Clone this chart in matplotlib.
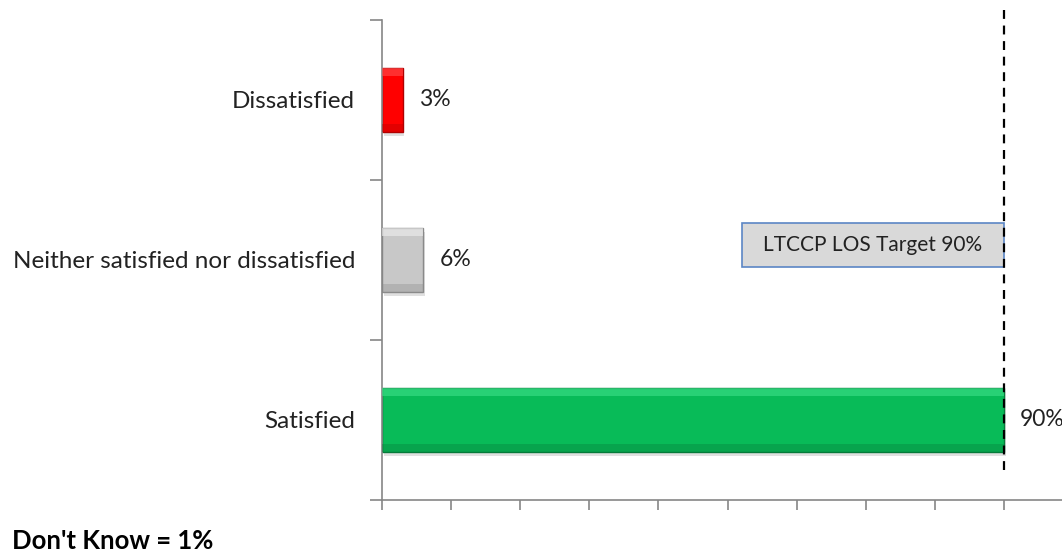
import matplotlib.pyplot as plt
from matplotlib.patches import Rectangle
import numpy as np

plt.rcParams['font.family'] = ['Lato', 'DejaVu Sans']

# data (bottom to top)
categories = ['Satisfied', 'Neither satisfied nor dissatisfied', 'Dissatisfied']
values = [90, 6, 3]
value_labels = ['90%', '6%', '3%']
bar_colors = ['#08bb58', '#c8c8c8', '#ff0000']
edge_colors = ['#067a3a', '#8a8a8a', '#b00000']
light_colors = ['#3fe08a', '#f0f0f0', '#ff5050']
target = 90
target_label = 'LTCCP LOS Target 90%'
note = "Don't Know = 1%"

fig = plt.figure(figsize=(10.62, 5.53), dpi=100)
ax = fig.add_axes([382 / 1062, 53 / 553, 691 / 1062, 480 / 553])

y = np.arange(len(categories))
h = 0.4

# soft shadow under the bars
ax.barh(y - 0.025, values, height=h, left=0.25, color='#000000', alpha=0.12, zorder=1)
# main bars
ax.barh(y, values, height=h, color=bar_colors, edgecolor=edge_colors, linewidth=1, zorder=2)
# bevel highlight along the top and darker band along the bottom
ax.barh(y + h / 2 - 0.025, values, height=0.05, color=light_colors, alpha=0.6, zorder=3)
ax.barh(y - h / 2 + 0.025, values, height=0.05, color=edge_colors, alpha=0.35, zorder=3)

for yi, v, lab in zip(y, values, value_labels):
    ax.annotate(lab, (v, yi), xytext=(16, 0), textcoords='offset pixels',
                ha='left', va='center', fontsize=16.5, color='#222222', annotation_clip=False)

# target line
ax.axvline(target, ymin=0.0625, ymax=1.025, color='black', linestyle=(0, (4, 3)), linewidth=1.6,
           zorder=4, clip_on=False)
# target label box, right edge on the target line
box_y = 1.094
ax.add_patch(Rectangle((target - 37.9, box_y - 0.1375), 37.9, 0.275, facecolor='#d9d9d9',
                       edgecolor='#5b86c5', linewidth=1.2, zorder=3))
ax.text(target - 37.9 / 2, box_y, target_label, ha='center', va='center', fontsize=15,
        color='#222222', zorder=4)

ax.set_xlim(0, 100)
ax.set_ylim(-0.5, 2.5)
ax.set_xticks(np.arange(0, 101, 10))
ax.set_xticklabels([])
ax.set_yticks(y)
ax.set_yticklabels(categories, fontsize=17.5, color='#222222')
ax.set_yticks(np.arange(-0.5, 2.6, 1), minor=True)
ax.tick_params(axis='y', which='major', length=0, pad=19.5)
ax.tick_params(axis='y', which='minor', length=9, width=1.2, color='#868686')
ax.tick_params(axis='x', length=7, width=1.2, color='#868686')

for s in ['top', 'right']:
    ax.spines[s].set_visible(False)
for s in ['left', 'bottom']:
    ax.spines[s].set_color('#868686')
    ax.spines[s].set_linewidth(1.2)

fig.text(12 / 1062, 1 - 541 / 553, note, ha='left', va='center', fontsize=18.5, fontweight='bold')

fig.savefig('out.png', dpi=100)
